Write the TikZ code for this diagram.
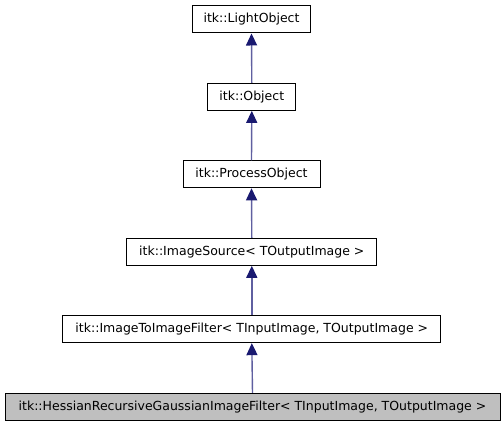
\documentclass[tikz,border=0pt]{standalone}
\usepackage{fontspec}
\setmainfont{DejaVu Sans}
\usetikzlibrary{arrows.meta}
\definecolor{edgecol}{HTML}{5F5FA0}
\definecolor{headcol}{HTML}{191970}
\definecolor{grayfill}{HTML}{BFBFBF}
\begin{document}
\begin{tikzpicture}[x=1pt,y=1pt,
  cls/.style={draw=black,line width=1pt,minimum height=27pt,inner sep=0pt,font=\fontsize{12.5}{14}\selectfont},
  inh/.style={draw=edgecol,line width=1.4pt,-{Triangle[length=12pt,width=11pt,color=headcol]}}]
\useasboundingbox (0,0) rectangle (504,427);
\node[cls,minimum width=118pt] (lo) at (251.5,407.5) {itk::LightObject};
\node[cls,minimum width=88pt] (ob) at (251.8,330.1) {itk::Object};
\node[cls,minimum width=137pt] (po) at (251.5,252.7) {itk::ProcessObject};
\node[cls,minimum width=250pt] (is) at (251.8,175.2) {itk::ImageSource< TOutputImage >};
\node[cls,minimum width=378pt] (itf) at (251.8,97.8) {itk::ImageToImageFilter< TInputImage, TOutputImage >};
\node[cls,fill=grayfill,minimum width=495pt] (hr) at (252.5,20) {itk::HessianRecursiveGaussianImageFilter< TInputImage, TOutputImage >};
\draw[inh] (ob.north) -- (lo.south);
\draw[inh] (po.north) -- (ob.south);
\draw[inh] (is.north) -- (po.south);
\draw[inh] (itf.north) -- (is.south);
\draw[inh] (hr.north) -- (itf.south);
\end{tikzpicture}
\end{document}
